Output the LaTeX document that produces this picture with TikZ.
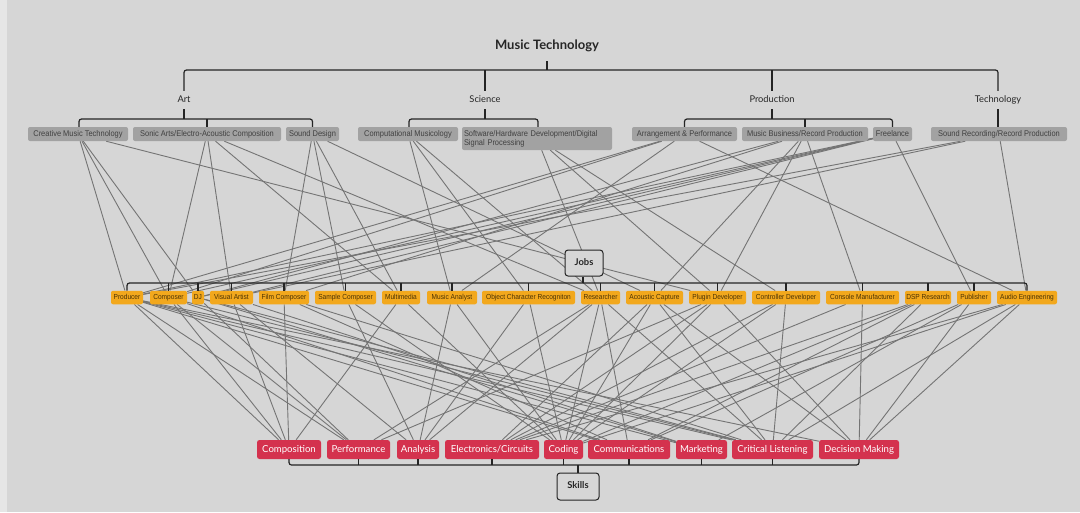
\documentclass[tikz,border=0pt]{standalone}
\usepackage{fontspec}
\setmainfont{Lato}
\newfontfamily\smallfont[FakeStretch=0.9]{Liberation Sans}
\usetikzlibrary{calc}
\pgfdeclarelayer{bg}
\pgfsetlayers{bg,main}
\definecolor{bgc}{HTML}{D6D6D6}
\definecolor{stripc}{HTML}{E6E6E6}
\definecolor{catc}{HTML}{A2A2A2}
\definecolor{jobc}{HTML}{F2A81D}
\definecolor{jobt}{HTML}{4A3204}
\definecolor{skc}{HTML}{D4324E}
\definecolor{edgec}{HTML}{747474}
\definecolor{linec}{HTML}{242424}
\tikzset{
 catbase/.style={fill=catc, rounded corners=2pt, minimum height=14pt, inner sep=0pt, text=black!75, font=\smallfont\fontsize{8.3}{9.3}\selectfont},
 cat/.style={catbase, text height=6pt, text depth=1.8pt},
 job/.style={fill=jobc, rounded corners=2pt, minimum height=13.5pt, inner sep=0pt, text=jobt, font=\smallfont\fontsize{7.3}{8}\selectfont, text height=5.3pt, text depth=1.5pt},
 skill/.style={fill=skc, rounded corners=2.5pt, minimum height=19pt, inner sep=0pt, text=white, font=\fontsize{9.6}{10.5}\selectfont, text height=7pt, text depth=2pt},
 hdr/.style={fill=bgc, draw=linec, line width=1pt, rounded corners=3pt, inner sep=0pt, font=\bfseries\fontsize{9.4}{10}\selectfont, text=black!85, text height=6.8pt, text depth=1.9pt},
 lbl/.style={inner sep=0pt, minimum height=18pt, font=\fontsize{9.3}{10}\selectfont, text=black!85, text height=7pt, text depth=2pt},
 tree/.style={draw=linec, line width=1.2pt, rounded corners=2.5pt},
 edgeline/.style={draw=edgec, line width=0.9pt},
}
\begin{document}
\begin{tikzpicture}[x=1pt,y=-1pt]
\useasboundingbox (0,0) rectangle (1080,512);
\begin{pgfonlayer}{bg}
\fill[bgc] (0,0) rectangle (1080,512);
\fill[stripc] (0,0) rectangle (7,512);
\end{pgfonlayer}

% title and category labels
\node[inner sep=0pt, minimum height=30pt, font=\bfseries\fontsize{13}{14}\selectfont, text=black!85, text height=9.5pt, text depth=3pt] (title) at (547,46) {Music Technology};
\node[lbl] (art) at (184,100) {Art};
\node[lbl] (science) at (485,100) {Science};
\node[lbl] (production) at (772,100) {Production};
\node[lbl] (technology) at (998,100) {Technology};

% category nodes
\node[cat, minimum width=100pt] (cmt) at (78,134) {Creative Music Technology};
\node[cat, minimum width=148pt] (sa) at (207,134) {Sonic Arts/Electro-Acoustic Composition};
\node[cat, minimum width=53pt] (sd) at (312.5,134) {Sound Design};
\node[cat, minimum width=100pt] (cm) at (408,134) {Computational Musicology};
\node[catbase, text width=146pt, inner xsep=2pt, inner ysep=2.5pt, minimum height=23pt, align=left] (sw) at (537,138.5) {Software/Hardware Development/Digital\\Signal Processing};
\node[cat, minimum width=105pt] (ap) at (684.5,134) {Arrangement \& Performance};
\node[cat, minimum width=126pt] (mb) at (805,134) {Music Business/Record Production};
\node[cat, minimum width=39pt] (fl) at (892.5,134) {Freelance};
\node[cat, minimum width=136pt] (sr) at (999,134) {Sound Recording/Record Production};

% jobs
\node[hdr, minimum width=38pt, minimum height=26pt] (jobs) at (584,263) {Jobs};
\node[job, minimum width=32pt] (producer) at (127,297.5) {Producer};
\node[job, minimum width=37pt] (composer) at (168.5,297.5) {Composer};
\node[job, minimum width=12pt] (dj) at (198,297.5) {DJ};
\node[job, minimum width=43pt] (visual) at (231.5,297.5) {Visual Artist};
\node[job, minimum width=50pt] (film) at (284,297.5) {Film Composer};
\node[job, minimum width=61pt] (sample) at (345.5,297.5) {Sample Composer};
\node[job, minimum width=38pt] (multimedia) at (401,297.5) {Multimedia};
\node[job, minimum width=50pt] (analyst) at (452,297.5) {Music Analyst};
\node[job, minimum width=93pt] (ocr) at (528.5,297.5) {Object Character Recogniton};
\node[job, minimum width=39pt] (researcher) at (600.5,297.5) {Researcher};
\node[job, minimum width=57pt] (acoustic) at (654.5,297.5) {Acoustic Capture};
\node[job, minimum width=57pt] (plugin) at (717.5,297.5) {Plugin Developer};
\node[job, minimum width=68pt] (controller) at (786,297.5) {Controller Developer};
\node[job, minimum width=73pt] (console) at (862.5,297.5) {Console Manufacturer};
\node[job, minimum width=46pt] (dsp) at (928,297.5) {DSP Research};
\node[job, minimum width=34pt] (publisher) at (974,297.5) {Publisher};
\node[job, minimum width=60pt] (audioeng) at (1027,297.5) {Audio Engineering};

% skills
\node[skill, minimum width=64pt] (composition) at (289,449.5) {Composition};
\node[skill, minimum width=63pt] (performance) at (358.5,449.5) {Performance};
\node[skill, minimum width=42pt] (analysis) at (418,449.5) {Analysis};
\node[skill, minimum width=94pt] (electronics) at (492,449.5) {Electronics/Circuits};
\node[skill, minimum width=39pt] (coding) at (563.5,449.5) {Coding};
\node[skill, minimum width=82pt] (communications) at (629,449.5) {Communications};
\node[skill, minimum width=51pt] (marketing) at (701.5,449.5) {Marketing};
\node[skill, minimum width=81pt] (critical) at (772.5,449.5) {Critical Listening};
\node[skill, minimum width=80pt] (decision) at (859,449.5) {Decision Making};
\node[hdr, minimum width=42pt, minimum height=27pt] (skills) at (578,486.5) {Skills};

% tree coordinates
\coordinate (tb) at (547,70);
\coordinate (cb) at (0,119);
\coordinate (jb) at (583,283);
\coordinate (sb) at (578,465);

\begin{pgfonlayer}{bg}
% cross connectors: categories to jobs
\foreach \a/\b in {cmt/producer, cmt/composer, cmt/dj, cmt/plugin,
 sa/composer, sa/visual, sa/multimedia, sa/researcher,
 sd/film, sd/sample, sd/multimedia, sd/acoustic,
 cm/analyst, cm/ocr, cm/researcher,
 sw/researcher, sw/plugin, sw/controller,
 ap/producer, ap/composer, ap/analyst, ap/audioeng,
 mb/dj, mb/film, mb/acoustic, mb/plugin, mb/console,
 fl/producer, fl/composer, fl/dj, fl/visual, fl/publisher,
 sr/producer, sr/visual, sr/audioeng}
 \draw[edgeline] (\a) -- (\b);
% jobs to skills
\foreach \a/\b in {producer/composition, producer/performance, producer/communications, producer/marketing, producer/critical, producer/decision,
 composer/composition, composer/performance, composer/communications, composer/critical,
 dj/performance, dj/marketing, dj/critical,
 visual/composition, visual/analysis, visual/marketing,
 film/composition, film/communications, film/critical,
 sample/analysis, sample/coding,
 multimedia/composition, multimedia/coding,
 analyst/analysis, analyst/coding,
 ocr/analysis, ocr/coding,
 researcher/performance, researcher/analysis, researcher/coding, researcher/communications, researcher/critical,
 acoustic/electronics, acoustic/coding, acoustic/critical, acoustic/decision,
 plugin/performance, plugin/electronics, plugin/coding, plugin/decision,
 controller/electronics, controller/coding, controller/critical,
 console/electronics, console/decision,
 dsp/electronics, dsp/coding, dsp/communications, dsp/critical,
 publisher/communications, publisher/marketing, publisher/decision,
 audioeng/electronics, audioeng/coding, audioeng/critical, audioeng/decision}
 \draw[edgeline] (\a) -- (\b);
\end{pgfonlayer}

% top tree
\draw[tree] (title.south) -- (title.south |- tb);
\draw[tree] (art.north) |- (technology.north |- tb) -- (technology.north);
\draw[tree] (science.north) -- (science.north |- tb);
\draw[tree] (production.north) -- (production.north |- tb);
% Art branch
\draw[tree] ([xshift=1pt]cmt.north) |- (sd.north |- cb) -- (sd.north);
\draw[tree] (art.south) -- (art.south |- cb);
\draw[tree] (sa.north) -- (sa.north |- cb);
% Science branch
\draw[tree] ([xshift=1pt]cm.north) |- ([xshift=1pt]sw.north |- cb) -- ([xshift=1pt]sw.north);
\draw[tree] (science.south) -- (science.south |- cb);
% Production branch
\draw[tree] (ap.north) |- (fl.north |- cb) -- (fl.north);
\draw[tree] (production.south) -- (production.south |- cb);
\draw[tree] (mb.north) -- (mb.north |- cb);
% Technology branch
\draw[tree] (technology.south) -- (sr.north -| technology.south);

% jobs tree
\draw[tree] (producer.north) |- (audioeng.north |- jb) -- (audioeng.north);
\draw[tree] (jobs.south -| jb) -- (jb);
\foreach \j in {composer, dj, visual, film, sample, multimedia, analyst, ocr, researcher, acoustic, plugin, controller, console, dsp, publisher}
 \draw[tree] (\j.north) -- (\j.north |- jb);

% skills tree
\draw[tree] (composition.south) |- (decision.south |- sb) -- (decision.south);
\draw[tree] (skills.north -| sb) -- (sb);
\foreach \s in {performance, analysis, electronics, coding, communications, marketing, critical}
 \draw[tree] (\s.south) -- (\s.south |- sb);
\end{tikzpicture}
\end{document}
